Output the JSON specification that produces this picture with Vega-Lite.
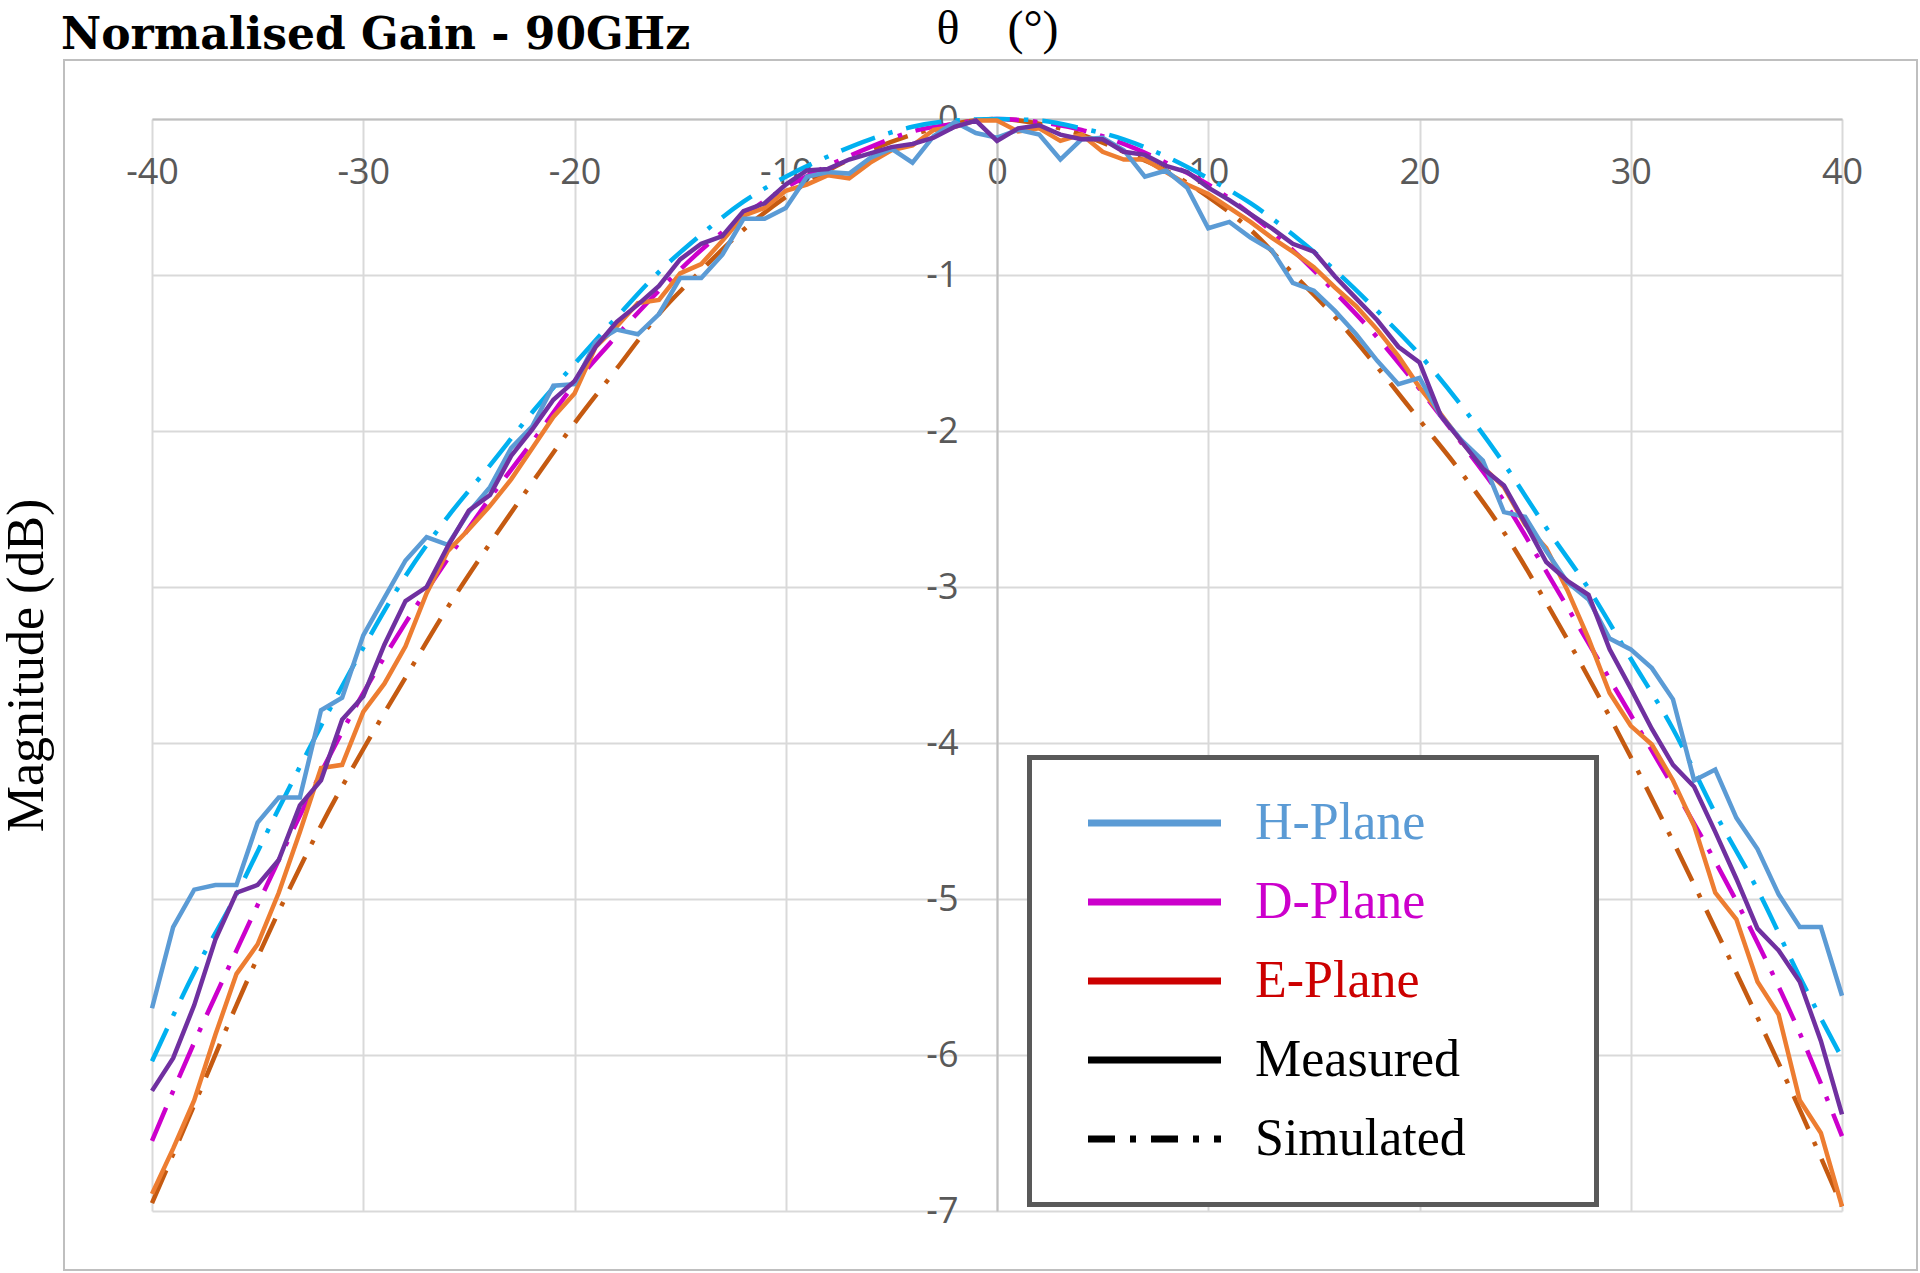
{
  "$schema": "https://vega.github.io/schema/vega-lite/v6.json",
  "width": 1853,
  "height": 1210,
  "autosize": {"type": "none"},
  "padding": {"left": 64, "top": 60, "right": 3, "bottom": 3},
  "title": {
    "text": "Normalised Gain - 90GHz",
    "anchor": "start",
    "frame": "group",
    "font": "DejaVu Serif",
    "fontWeight": "bold",
    "fontSize": 44,
    "color": "#000000",
    "offset": -53,
    "dx": -3
  },
  "config": {
    "view": {"stroke": "#BFBFBF", "strokeWidth": 2},
    "axis": {
      "gridColor": "#D9D9D9",
      "gridWidth": 2,
      "domainColor": "#BFBFBF",
      "domainWidth": 2,
      "ticks": false,
      "labelFont": "Open Sans",
      "labelFontSize": 36,
      "labelColor": "#595959",
      "titleFont": "Liberation Serif",
      "titleFontWeight": "normal",
      "titleColor": "#000000"
    },
    "legend": {"strokeWidth": 5}
  },
  "datasets": {
    "meas": [
      {"series": "E-Plane", "theta": -40, "gain": -6.89}, {"series": "E-Plane", "theta": -39, "gain": -6.60}, {"series": "E-Plane", "theta": -38, "gain": -6.29}, {"series": "E-Plane", "theta": -37, "gain": -5.87}, {"series": "E-Plane", "theta": -36, "gain": -5.48}, {"series": "E-Plane", "theta": -35, "gain": -5.29}, {"series": "E-Plane", "theta": -34, "gain": -4.96}, {"series": "E-Plane", "theta": -33, "gain": -4.57}, {"series": "E-Plane", "theta": -32, "gain": -4.16}, {"series": "E-Plane", "theta": -31, "gain": -4.14},
      {"series": "E-Plane", "theta": -30, "gain": -3.80}, {"series": "E-Plane", "theta": -29, "gain": -3.62}, {"series": "E-Plane", "theta": -28, "gain": -3.38}, {"series": "E-Plane", "theta": -27, "gain": -3.04}, {"series": "E-Plane", "theta": -26, "gain": -2.77}, {"series": "E-Plane", "theta": -25, "gain": -2.63}, {"series": "E-Plane", "theta": -24, "gain": -2.48}, {"series": "E-Plane", "theta": -23, "gain": -2.31}, {"series": "E-Plane", "theta": -22, "gain": -2.11}, {"series": "E-Plane", "theta": -21, "gain": -1.91},
      {"series": "E-Plane", "theta": -20, "gain": -1.76}, {"series": "E-Plane", "theta": -19, "gain": -1.46}, {"series": "E-Plane", "theta": -18, "gain": -1.33}, {"series": "E-Plane", "theta": -17, "gain": -1.18}, {"series": "E-Plane", "theta": -16, "gain": -1.16}, {"series": "E-Plane", "theta": -15, "gain": -0.99}, {"series": "E-Plane", "theta": -14, "gain": -0.93}, {"series": "E-Plane", "theta": -13, "gain": -0.78}, {"series": "E-Plane", "theta": -12, "gain": -0.62}, {"series": "E-Plane", "theta": -11, "gain": -0.57},
      {"series": "E-Plane", "theta": -10, "gain": -0.46}, {"series": "E-Plane", "theta": -9, "gain": -0.42}, {"series": "E-Plane", "theta": -8, "gain": -0.36}, {"series": "E-Plane", "theta": -7, "gain": -0.38}, {"series": "E-Plane", "theta": -6, "gain": -0.28}, {"series": "E-Plane", "theta": -5, "gain": -0.20}, {"series": "E-Plane", "theta": -4, "gain": -0.17}, {"series": "E-Plane", "theta": -3, "gain": -0.07}, {"series": "E-Plane", "theta": -2, "gain": -0.05}, {"series": "E-Plane", "theta": -1, "gain": -0.01},
      {"series": "E-Plane", "theta": 0, "gain": -0.01}, {"series": "E-Plane", "theta": 1, "gain": -0.08}, {"series": "E-Plane", "theta": 2, "gain": -0.06}, {"series": "E-Plane", "theta": 3, "gain": -0.14}, {"series": "E-Plane", "theta": 4, "gain": -0.10}, {"series": "E-Plane", "theta": 5, "gain": -0.21}, {"series": "E-Plane", "theta": 6, "gain": -0.26}, {"series": "E-Plane", "theta": 7, "gain": -0.26}, {"series": "E-Plane", "theta": 8, "gain": -0.34}, {"series": "E-Plane", "theta": 9, "gain": -0.42},
      {"series": "E-Plane", "theta": 10, "gain": -0.48}, {"series": "E-Plane", "theta": 11, "gain": -0.57}, {"series": "E-Plane", "theta": 12, "gain": -0.66}, {"series": "E-Plane", "theta": 13, "gain": -0.76}, {"series": "E-Plane", "theta": 14, "gain": -0.85}, {"series": "E-Plane", "theta": 15, "gain": -0.95}, {"series": "E-Plane", "theta": 16, "gain": -1.08}, {"series": "E-Plane", "theta": 17, "gain": -1.20}, {"series": "E-Plane", "theta": 18, "gain": -1.35}, {"series": "E-Plane", "theta": 19, "gain": -1.52},
      {"series": "E-Plane", "theta": 20, "gain": -1.72}, {"series": "E-Plane", "theta": 21, "gain": -1.89}, {"series": "E-Plane", "theta": 22, "gain": -2.07}, {"series": "E-Plane", "theta": 23, "gain": -2.23}, {"series": "E-Plane", "theta": 24, "gain": -2.36}, {"series": "E-Plane", "theta": 25, "gain": -2.60}, {"series": "E-Plane", "theta": 26, "gain": -2.75}, {"series": "E-Plane", "theta": 27, "gain": -3.02}, {"series": "E-Plane", "theta": 28, "gain": -3.33}, {"series": "E-Plane", "theta": 29, "gain": -3.68},
      {"series": "E-Plane", "theta": 30, "gain": -3.89}, {"series": "E-Plane", "theta": 31, "gain": -4.01}, {"series": "E-Plane", "theta": 32, "gain": -4.24}, {"series": "E-Plane", "theta": 33, "gain": -4.53}, {"series": "E-Plane", "theta": 34, "gain": -4.96}, {"series": "E-Plane", "theta": 35, "gain": -5.13}, {"series": "E-Plane", "theta": 36, "gain": -5.53}, {"series": "E-Plane", "theta": 37, "gain": -5.74}, {"series": "E-Plane", "theta": 38, "gain": -6.29}, {"series": "E-Plane", "theta": 39, "gain": -6.50},
      {"series": "E-Plane", "theta": 40, "gain": -6.97},

      {"series": "H-Plane", "theta": -40, "gain": -5.70}, {"series": "H-Plane", "theta": -39, "gain": -5.18}, {"series": "H-Plane", "theta": -38, "gain": -4.94}, {"series": "H-Plane", "theta": -37, "gain": -4.91}, {"series": "H-Plane", "theta": -36, "gain": -4.91}, {"series": "H-Plane", "theta": -35, "gain": -4.51}, {"series": "H-Plane", "theta": -34, "gain": -4.35}, {"series": "H-Plane", "theta": -33, "gain": -4.35}, {"series": "H-Plane", "theta": -32, "gain": -3.79}, {"series": "H-Plane", "theta": -31, "gain": -3.71},
      {"series": "H-Plane", "theta": -30, "gain": -3.31}, {"series": "H-Plane", "theta": -29, "gain": -3.07}, {"series": "H-Plane", "theta": -28, "gain": -2.83}, {"series": "H-Plane", "theta": -27, "gain": -2.68}, {"series": "H-Plane", "theta": -26, "gain": -2.73}, {"series": "H-Plane", "theta": -25, "gain": -2.52}, {"series": "H-Plane", "theta": -24, "gain": -2.36}, {"series": "H-Plane", "theta": -23, "gain": -2.11}, {"series": "H-Plane", "theta": -22, "gain": -1.97}, {"series": "H-Plane", "theta": -21, "gain": -1.71},
      {"series": "H-Plane", "theta": -20, "gain": -1.70}, {"series": "H-Plane", "theta": -19, "gain": -1.43}, {"series": "H-Plane", "theta": -18, "gain": -1.35}, {"series": "H-Plane", "theta": -17, "gain": -1.38}, {"series": "H-Plane", "theta": -16, "gain": -1.25}, {"series": "H-Plane", "theta": -15, "gain": -1.02}, {"series": "H-Plane", "theta": -14, "gain": -1.02}, {"series": "H-Plane", "theta": -13, "gain": -0.87}, {"series": "H-Plane", "theta": -12, "gain": -0.64}, {"series": "H-Plane", "theta": -11, "gain": -0.64},
      {"series": "H-Plane", "theta": -10, "gain": -0.57}, {"series": "H-Plane", "theta": -9, "gain": -0.37}, {"series": "H-Plane", "theta": -8, "gain": -0.34}, {"series": "H-Plane", "theta": -7, "gain": -0.35}, {"series": "H-Plane", "theta": -6, "gain": -0.25}, {"series": "H-Plane", "theta": -5, "gain": -0.19}, {"series": "H-Plane", "theta": -4, "gain": -0.28}, {"series": "H-Plane", "theta": -3, "gain": -0.11}, {"series": "H-Plane", "theta": -2, "gain": -0.02}, {"series": "H-Plane", "theta": -1, "gain": -0.09},
      {"series": "H-Plane", "theta": 0, "gain": -0.12}, {"series": "H-Plane", "theta": 1, "gain": -0.07}, {"series": "H-Plane", "theta": 2, "gain": -0.10}, {"series": "H-Plane", "theta": 3, "gain": -0.26}, {"series": "H-Plane", "theta": 4, "gain": -0.13}, {"series": "H-Plane", "theta": 5, "gain": -0.12}, {"series": "H-Plane", "theta": 6, "gain": -0.20}, {"series": "H-Plane", "theta": 7, "gain": -0.37}, {"series": "H-Plane", "theta": 8, "gain": -0.33}, {"series": "H-Plane", "theta": 9, "gain": -0.44},
      {"series": "H-Plane", "theta": 10, "gain": -0.70}, {"series": "H-Plane", "theta": 11, "gain": -0.66}, {"series": "H-Plane", "theta": 12, "gain": -0.76}, {"series": "H-Plane", "theta": 13, "gain": -0.84}, {"series": "H-Plane", "theta": 14, "gain": -1.05}, {"series": "H-Plane", "theta": 15, "gain": -1.10}, {"series": "H-Plane", "theta": 16, "gain": -1.23}, {"series": "H-Plane", "theta": 17, "gain": -1.38}, {"series": "H-Plane", "theta": 18, "gain": -1.55}, {"series": "H-Plane", "theta": 19, "gain": -1.70},
      {"series": "H-Plane", "theta": 20, "gain": -1.66}, {"series": "H-Plane", "theta": 21, "gain": -1.90}, {"series": "H-Plane", "theta": 22, "gain": -2.06}, {"series": "H-Plane", "theta": 23, "gain": -2.19}, {"series": "H-Plane", "theta": 24, "gain": -2.52}, {"series": "H-Plane", "theta": 25, "gain": -2.55}, {"series": "H-Plane", "theta": 26, "gain": -2.77}, {"series": "H-Plane", "theta": 27, "gain": -2.97}, {"series": "H-Plane", "theta": 28, "gain": -3.08}, {"series": "H-Plane", "theta": 29, "gain": -3.33},
      {"series": "H-Plane", "theta": 30, "gain": -3.40}, {"series": "H-Plane", "theta": 31, "gain": -3.52}, {"series": "H-Plane", "theta": 32, "gain": -3.72}, {"series": "H-Plane", "theta": 33, "gain": -4.24}, {"series": "H-Plane", "theta": 34, "gain": -4.17}, {"series": "H-Plane", "theta": 35, "gain": -4.48}, {"series": "H-Plane", "theta": 36, "gain": -4.68}, {"series": "H-Plane", "theta": 37, "gain": -4.97}, {"series": "H-Plane", "theta": 38, "gain": -5.18}, {"series": "H-Plane", "theta": 39, "gain": -5.18},
      {"series": "H-Plane", "theta": 40, "gain": -5.62},

      {"series": "D-Plane", "theta": -40, "gain": -6.23}, {"series": "D-Plane", "theta": -39, "gain": -6.02}, {"series": "D-Plane", "theta": -38, "gain": -5.68}, {"series": "D-Plane", "theta": -37, "gain": -5.26}, {"series": "D-Plane", "theta": -36, "gain": -4.96}, {"series": "D-Plane", "theta": -35, "gain": -4.91}, {"series": "D-Plane", "theta": -34, "gain": -4.75}, {"series": "D-Plane", "theta": -33, "gain": -4.40}, {"series": "D-Plane", "theta": -32, "gain": -4.24}, {"series": "D-Plane", "theta": -31, "gain": -3.85},
      {"series": "D-Plane", "theta": -30, "gain": -3.70}, {"series": "D-Plane", "theta": -29, "gain": -3.37}, {"series": "D-Plane", "theta": -28, "gain": -3.09}, {"series": "D-Plane", "theta": -27, "gain": -3.00}, {"series": "D-Plane", "theta": -26, "gain": -2.74}, {"series": "D-Plane", "theta": -25, "gain": -2.51}, {"series": "D-Plane", "theta": -24, "gain": -2.41}, {"series": "D-Plane", "theta": -23, "gain": -2.16}, {"series": "D-Plane", "theta": -22, "gain": -1.99}, {"series": "D-Plane", "theta": -21, "gain": -1.80},
      {"series": "D-Plane", "theta": -20, "gain": -1.68}, {"series": "D-Plane", "theta": -19, "gain": -1.46}, {"series": "D-Plane", "theta": -18, "gain": -1.30}, {"series": "D-Plane", "theta": -17, "gain": -1.19}, {"series": "D-Plane", "theta": -16, "gain": -1.07}, {"series": "D-Plane", "theta": -15, "gain": -0.90}, {"series": "D-Plane", "theta": -14, "gain": -0.80}, {"series": "D-Plane", "theta": -13, "gain": -0.75}, {"series": "D-Plane", "theta": -12, "gain": -0.59}, {"series": "D-Plane", "theta": -11, "gain": -0.54},
      {"series": "D-Plane", "theta": -10, "gain": -0.42}, {"series": "D-Plane", "theta": -9, "gain": -0.33}, {"series": "D-Plane", "theta": -8, "gain": -0.32}, {"series": "D-Plane", "theta": -7, "gain": -0.26}, {"series": "D-Plane", "theta": -6, "gain": -0.22}, {"series": "D-Plane", "theta": -5, "gain": -0.18}, {"series": "D-Plane", "theta": -4, "gain": -0.16}, {"series": "D-Plane", "theta": -3, "gain": -0.12}, {"series": "D-Plane", "theta": -2, "gain": -0.05}, {"series": "D-Plane", "theta": -1, "gain": -0.01},
      {"series": "D-Plane", "theta": 0, "gain": -0.14}, {"series": "D-Plane", "theta": 1, "gain": -0.06}, {"series": "D-Plane", "theta": 2, "gain": -0.04}, {"series": "D-Plane", "theta": 3, "gain": -0.10}, {"series": "D-Plane", "theta": 4, "gain": -0.13}, {"series": "D-Plane", "theta": 5, "gain": -0.13}, {"series": "D-Plane", "theta": 6, "gain": -0.21}, {"series": "D-Plane", "theta": 7, "gain": -0.23}, {"series": "D-Plane", "theta": 8, "gain": -0.30}, {"series": "D-Plane", "theta": 9, "gain": -0.34},
      {"series": "D-Plane", "theta": 10, "gain": -0.44}, {"series": "D-Plane", "theta": 11, "gain": -0.52}, {"series": "D-Plane", "theta": 12, "gain": -0.61}, {"series": "D-Plane", "theta": 13, "gain": -0.70}, {"series": "D-Plane", "theta": 14, "gain": -0.80}, {"series": "D-Plane", "theta": 15, "gain": -0.85}, {"series": "D-Plane", "theta": 16, "gain": -1.01}, {"series": "D-Plane", "theta": 17, "gain": -1.15}, {"series": "D-Plane", "theta": 18, "gain": -1.29}, {"series": "D-Plane", "theta": 19, "gain": -1.46},
      {"series": "D-Plane", "theta": 20, "gain": -1.56}, {"series": "D-Plane", "theta": 21, "gain": -1.90}, {"series": "D-Plane", "theta": 22, "gain": -2.07}, {"series": "D-Plane", "theta": 23, "gain": -2.24}, {"series": "D-Plane", "theta": 24, "gain": -2.35}, {"series": "D-Plane", "theta": 25, "gain": -2.59}, {"series": "D-Plane", "theta": 26, "gain": -2.84}, {"series": "D-Plane", "theta": 27, "gain": -2.96}, {"series": "D-Plane", "theta": 28, "gain": -3.05}, {"series": "D-Plane", "theta": 29, "gain": -3.40},
      {"series": "D-Plane", "theta": 30, "gain": -3.65}, {"series": "D-Plane", "theta": 31, "gain": -3.91}, {"series": "D-Plane", "theta": 32, "gain": -4.14}, {"series": "D-Plane", "theta": 33, "gain": -4.28}, {"series": "D-Plane", "theta": 34, "gain": -4.57}, {"series": "D-Plane", "theta": 35, "gain": -4.87}, {"series": "D-Plane", "theta": 36, "gain": -5.19}, {"series": "D-Plane", "theta": 37, "gain": -5.33}, {"series": "D-Plane", "theta": 38, "gain": -5.53}, {"series": "D-Plane", "theta": 39, "gain": -5.91},
      {"series": "D-Plane", "theta": 40, "gain": -6.38}
    ],
    "sim": [
      {"series": "E-Plane", "theta": -40, "gain": -6.95}, {"series": "E-Plane", "theta": -38, "gain": -6.32}, {"series": "E-Plane", "theta": -36, "gain": -5.68}, {"series": "E-Plane", "theta": -34, "gain": -5.08}, {"series": "E-Plane", "theta": -32, "gain": -4.53}, {"series": "E-Plane", "theta": -30, "gain": -4.04}, {"series": "E-Plane", "theta": -28, "gain": -3.58}, {"series": "E-Plane", "theta": -26, "gain": -3.13}, {"series": "E-Plane", "theta": -24, "gain": -2.72}, {"series": "E-Plane", "theta": -22, "gain": -2.33},
      {"series": "E-Plane", "theta": -20, "gain": -1.95}, {"series": "E-Plane", "theta": -18, "gain": -1.60}, {"series": "E-Plane", "theta": -16, "gain": -1.25}, {"series": "E-Plane", "theta": -14, "gain": -0.97}, {"series": "E-Plane", "theta": -12, "gain": -0.71}, {"series": "E-Plane", "theta": -10, "gain": -0.50}, {"series": "E-Plane", "theta": -8, "gain": -0.33}, {"series": "E-Plane", "theta": -6, "gain": -0.20}, {"series": "E-Plane", "theta": -4, "gain": -0.10}, {"series": "E-Plane", "theta": -2, "gain": -0.03},
      {"series": "E-Plane", "theta": 0, "gain": 0}, {"series": "E-Plane", "theta": 2, "gain": -0.03}, {"series": "E-Plane", "theta": 4, "gain": -0.10}, {"series": "E-Plane", "theta": 6, "gain": -0.21}, {"series": "E-Plane", "theta": 8, "gain": -0.33}, {"series": "E-Plane", "theta": 10, "gain": -0.50}, {"series": "E-Plane", "theta": 12, "gain": -0.71}, {"series": "E-Plane", "theta": 14, "gain": -0.99}, {"series": "E-Plane", "theta": 16, "gain": -1.27}, {"series": "E-Plane", "theta": 18, "gain": -1.59},
      {"series": "E-Plane", "theta": 20, "gain": -1.93}, {"series": "E-Plane", "theta": 22, "gain": -2.27}, {"series": "E-Plane", "theta": 24, "gain": -2.65}, {"series": "E-Plane", "theta": 26, "gain": -3.10}, {"series": "E-Plane", "theta": 28, "gain": -3.58}, {"series": "E-Plane", "theta": 30, "gain": -4.09}, {"series": "E-Plane", "theta": 32, "gain": -4.63}, {"series": "E-Plane", "theta": 34, "gain": -5.19}, {"series": "E-Plane", "theta": 36, "gain": -5.76}, {"series": "E-Plane", "theta": 38, "gain": -6.35},
      {"series": "E-Plane", "theta": 40, "gain": -6.97},

      {"series": "D-Plane", "theta": -40, "gain": -6.55}, {"series": "D-Plane", "theta": -38, "gain": -5.92}, {"series": "D-Plane", "theta": -36, "gain": -5.33}, {"series": "D-Plane", "theta": -34, "gain": -4.75}, {"series": "D-Plane", "theta": -32, "gain": -4.19}, {"series": "D-Plane", "theta": -30, "gain": -3.68}, {"series": "D-Plane", "theta": -28, "gain": -3.23}, {"series": "D-Plane", "theta": -26, "gain": -2.82}, {"series": "D-Plane", "theta": -24, "gain": -2.43}, {"series": "D-Plane", "theta": -22, "gain": -2.07},
      {"series": "D-Plane", "theta": -20, "gain": -1.70}, {"series": "D-Plane", "theta": -18, "gain": -1.39}, {"series": "D-Plane", "theta": -16, "gain": -1.10}, {"series": "D-Plane", "theta": -14, "gain": -0.84}, {"series": "D-Plane", "theta": -12, "gain": -0.62}, {"series": "D-Plane", "theta": -10, "gain": -0.44}, {"series": "D-Plane", "theta": -8, "gain": -0.30}, {"series": "D-Plane", "theta": -6, "gain": -0.18}, {"series": "D-Plane", "theta": -4, "gain": -0.08}, {"series": "D-Plane", "theta": -2, "gain": -0.03},
      {"series": "D-Plane", "theta": 0, "gain": 0}, {"series": "D-Plane", "theta": 2, "gain": -0.02}, {"series": "D-Plane", "theta": 4, "gain": -0.07}, {"series": "D-Plane", "theta": 6, "gain": -0.16}, {"series": "D-Plane", "theta": 8, "gain": -0.28}, {"series": "D-Plane", "theta": 10, "gain": -0.42}, {"series": "D-Plane", "theta": 12, "gain": -0.61}, {"series": "D-Plane", "theta": 14, "gain": -0.84}, {"series": "D-Plane", "theta": 16, "gain": -1.11}, {"series": "D-Plane", "theta": 18, "gain": -1.40},
      {"series": "D-Plane", "theta": 20, "gain": -1.73}, {"series": "D-Plane", "theta": 22, "gain": -2.08}, {"series": "D-Plane", "theta": 24, "gain": -2.45}, {"series": "D-Plane", "theta": 26, "gain": -2.90}, {"series": "D-Plane", "theta": 28, "gain": -3.36}, {"series": "D-Plane", "theta": 30, "gain": -3.82}, {"series": "D-Plane", "theta": 32, "gain": -4.28}, {"series": "D-Plane", "theta": 34, "gain": -4.76}, {"series": "D-Plane", "theta": 36, "gain": -5.28}, {"series": "D-Plane", "theta": 38, "gain": -5.86},
      {"series": "D-Plane", "theta": 40, "gain": -6.52},

      {"series": "H-Plane", "theta": -40, "gain": -6.04}, {"series": "H-Plane", "theta": -38, "gain": -5.47}, {"series": "H-Plane", "theta": -36, "gain": -4.97}, {"series": "H-Plane", "theta": -34, "gain": -4.42}, {"series": "H-Plane", "theta": -32, "gain": -3.89}, {"series": "H-Plane", "theta": -30, "gain": -3.39}, {"series": "H-Plane", "theta": -28, "gain": -2.93}, {"series": "H-Plane", "theta": -26, "gain": -2.55}, {"series": "H-Plane", "theta": -24, "gain": -2.22}, {"series": "H-Plane", "theta": -22, "gain": -1.88},
      {"series": "H-Plane", "theta": -20, "gain": -1.57}, {"series": "H-Plane", "theta": -18, "gain": -1.27}, {"series": "H-Plane", "theta": -16, "gain": -0.98}, {"series": "H-Plane", "theta": -14, "gain": -0.74}, {"series": "H-Plane", "theta": -12, "gain": -0.53}, {"series": "H-Plane", "theta": -10, "gain": -0.37}, {"series": "H-Plane", "theta": -8, "gain": -0.24}, {"series": "H-Plane", "theta": -6, "gain": -0.13}, {"series": "H-Plane", "theta": -4, "gain": -0.05}, {"series": "H-Plane", "theta": -2, "gain": -0.01},
      {"series": "H-Plane", "theta": 0, "gain": 0}, {"series": "H-Plane", "theta": 2, "gain": -0.01}, {"series": "H-Plane", "theta": 4, "gain": -0.06}, {"series": "H-Plane", "theta": 6, "gain": -0.13}, {"series": "H-Plane", "theta": 8, "gain": -0.24}, {"series": "H-Plane", "theta": 10, "gain": -0.38}, {"series": "H-Plane", "theta": 12, "gain": -0.54}, {"series": "H-Plane", "theta": 14, "gain": -0.74}, {"series": "H-Plane", "theta": 16, "gain": -0.97}, {"series": "H-Plane", "theta": 18, "gain": -1.23},
      {"series": "H-Plane", "theta": 20, "gain": -1.51}, {"series": "H-Plane", "theta": 22, "gain": -1.84}, {"series": "H-Plane", "theta": 24, "gain": -2.21}, {"series": "H-Plane", "theta": 26, "gain": -2.62}, {"series": "H-Plane", "theta": 28, "gain": -3.01}, {"series": "H-Plane", "theta": 30, "gain": -3.46}, {"series": "H-Plane", "theta": 32, "gain": -3.91}, {"series": "H-Plane", "theta": 34, "gain": -4.45}, {"series": "H-Plane", "theta": 36, "gain": -4.94}, {"series": "H-Plane", "theta": 38, "gain": -5.50},
      {"series": "H-Plane", "theta": 40, "gain": -6.02}
    ],
    "key": [
      {"entry": "H-Plane"},
      {"entry": "D-Plane"},
      {"entry": "E-Plane"},
      {"entry": "Measured"},
      {"entry": "Simulated"}
    ]
  },
  "layer": [
    {
      "data": {"name": "sim"},
      "mark": {"type": "line", "strokeWidth": 4.5, "strokeDash": [36, 14, 4.5, 14], "interpolate": "monotone"},
      "encoding": {
        "x": {
          "field": "theta",
          "type": "quantitative",
          "scale": {"domain": [-40, 40], "range": [88, 1778], "nice": false, "zero": false},
          "axis": {
            "orient": "top",
            "title": "θ\u00a0\u00a0\u00a0\u00a0(°)",
            "titleFontSize": 48,
            "titlePadding": 7,
            "labels": false,
            "domain": false,
            "grid": true,
            "values": [-40, -30, -20, -10, 0, 10, 20, 30, 40]
          }
        },
        "y": {
          "field": "gain",
          "type": "quantitative",
          "scale": {"domain": [-7, 0], "range": [1151, 59], "nice": false, "zero": false},
          "axis": {
            "orient": "left",
            "title": "Magnitude (dB)",
            "titleFontSize": 52,
            "titlePadding": 11,
            "labels": false,
            "domain": false,
            "grid": true,
            "values": [-7, -6, -5, -4, -3, -2, -1, 0]
          }
        },
        "color": {
          "field": "series",
          "type": "nominal",
          "scale": {"domain": ["H-Plane", "D-Plane", "E-Plane"], "range": ["#00B0F0", "#CC00CC", "#C55A11"]},
          "legend": null
        }
      }
    },
    {
      "data": {"name": "meas"},
      "mark": {"type": "line", "strokeWidth": 4.5},
      "encoding": {
        "x": {
          "field": "theta",
          "type": "quantitative",
          "axis": {
            "orient": "bottom",
            "offset": -1151,
            "title": null,
            "grid": false,
            "labelPadding": 36,
            "labelFlush": false,
            "labelOverlap": false,
            "labelExpr": "'' + datum.value",
            "values": [-40, -30, -20, -10, 0, 10, 20, 30, 40]
          }
        },
        "y": {
          "field": "gain",
          "type": "quantitative",
          "axis": {
            "orient": "right",
            "offset": -920,
            "title": null,
            "grid": false,
            "labelAlign": "right",
            "labelPadding": -39,
            "labelFlush": false,
            "labelOverlap": false,
            "labelExpr": "'' + datum.value",
            "values": [-7, -6, -5, -4, -3, -2, -1, 0]
          }
        },
        "color": {
          "field": "series",
          "type": "nominal",
          "scale": {"domain": ["H-Plane", "D-Plane", "E-Plane"], "range": ["#5B9BD5", "#7030A0", "#ED7D31"]},
          "legend": null
        }
      }
    },
    {
      "data": {"name": "key"},
      "mark": {"type": "line", "strokeWidth": 7},
      "encoding": {
        "color": {
          "field": "entry",
          "type": "nominal",
          "scale": {
            "domain": ["H-Plane", "D-Plane", "E-Plane", "Measured", "Simulated"],
            "range": ["#5B9BD5", "#CC00CC", "#CC0000", "#000000", "#000000"]
          },
          "legend": {
            "orient": "none",
            "legendX": 965.5,
            "legendY": 697.5,
            "title": null,
            "padding": 39.5,
            "strokeColor": "#595959",
            "fillColor": "#FFFFFF",
            "symbolType": "M-7,0H126",
            "symbolSize": 4,
            "symbolStrokeWidth": 7,
            "labelFont": "Liberation Serif",
            "labelFontSize": 52,
            "labelOffset": 134,
            "labelLimit": 0,
            "rowPadding": 27,
            "labelExpr": "datum.label + '\u00a0\u00a0\u00a0\u00a0\u00a0\u00a0\u00a0\u200b'",
            "labelColor": {"expr": "datum.value == 'H-Plane' ? '#5B9BD5' : datum.value == 'D-Plane' ? '#CC00CC' : datum.value == 'E-Plane' ? '#CC0000' : '#000000'"}
          }
        },
        "strokeDash": {
          "field": "entry",
          "type": "nominal",
          "scale": {
            "domain": ["H-Plane", "D-Plane", "E-Plane", "Measured", "Simulated"],
            "range": [[1, 0], [1, 0], [1, 0], [1, 0], [27, 15, 6, 15]]
          }
        }
      }
    }
  ],
  "resolve": {
    "scale": {"color": "independent", "strokeDash": "independent"},
    "axis": {"x": "independent", "y": "independent"}
  }
}
